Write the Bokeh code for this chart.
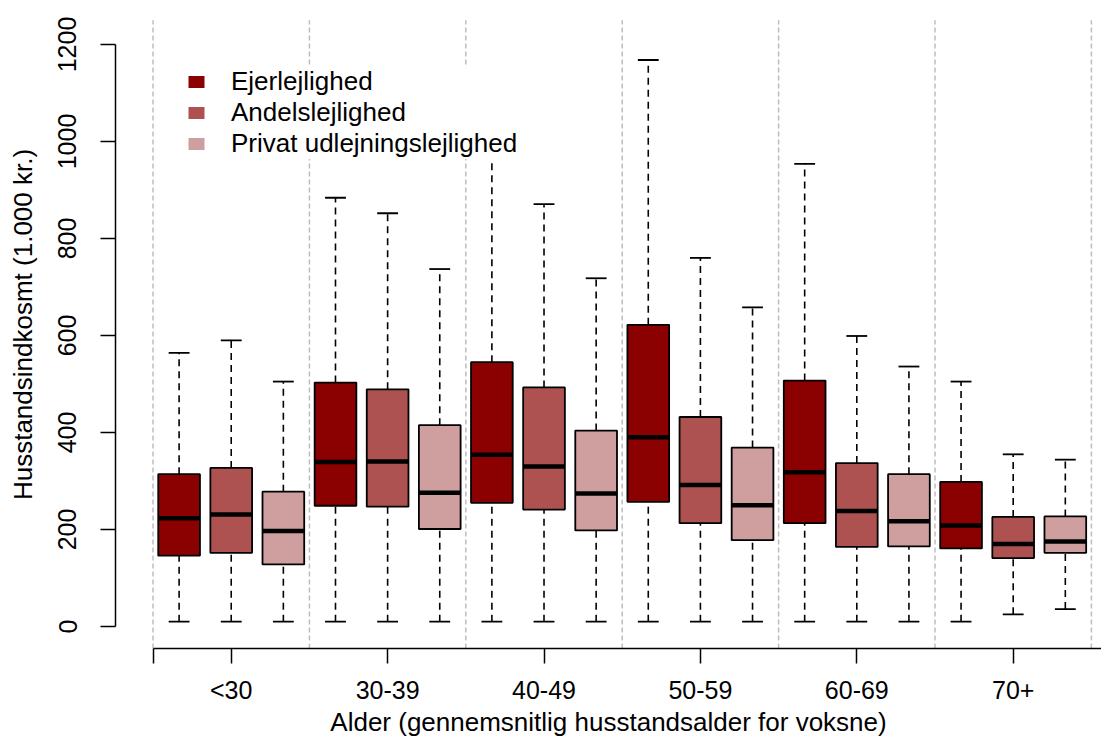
from bokeh.plotting import figure
from bokeh.models import Range1d, FixedTicker, ColumnDataSource, Legend, LegendItem
from bokeh.transform import dodge
from bokeh.embed import file_html
from bokeh.resources import INLINE

groups = ["<30", "30-39", "40-49", "50-59", "60-69", "70+"]
types = ["Ejerlejlighed", "Andelslejlighed", "Privat udlejningslejlighed"]
colors = ["#8B0000", "#AD5151", "#CF9E9E"]

ejer_low = [10, 10, 10, 10, 10, 10]
ejer_q1 = [146, 249, 255, 257, 213, 161]
ejer_med = [223, 339, 354, 390, 318, 208]
ejer_q3 = [314, 503, 545, 622, 507, 298]
ejer_high = [564, 884, 1000, 1168, 954, 505]

andel_low = [10, 10, 10, 10, 10, 25]
andel_q1 = [152, 247, 241, 213, 164, 141]
andel_med = [231, 340, 330, 292, 238, 170]
andel_q3 = [327, 489, 493, 432, 337, 226]
andel_high = [590, 852, 871, 760, 599, 355]

privat_low = [10, 10, 10, 10, 10, 36]
privat_q1 = [128, 201, 198, 178, 165, 152]
privat_med = [197, 276, 274, 250, 217, 175]
privat_q3 = [278, 415, 404, 369, 314, 227]
privat_high = [505, 737, 718, 658, 536, 344]

y_ticks = [0, 200, 400, 600, 800, 1000, 1200]

series = [
    (ejer_low, ejer_q1, ejer_med, ejer_q3, ejer_high),
    (andel_low, andel_q1, andel_med, andel_q3, andel_high),
    (privat_low, privat_q1, privat_med, privat_q3, privat_high),
]

FONT = "Liberation Sans"
BOXW = 0.8
Y0, Y1 = -45.36, 1290.7
X0, X1 = -0.22, 18.694

p = figure(width=1101, height=740, output_backend="svg", toolbar_location=None,
           x_range=Range1d(X0, X1), y_range=Range1d(Y0, Y1),
           min_border_left=115, min_border_right=0, min_border_top=0,
           min_border_bottom=92)
p.xgrid.visible = False
p.ygrid.visible = False
p.outline_line_color = None
p.background_fill_color = "white"

n_groups = len(groups)
n_types = len(types)
dividers = [0.5 + n_types * k for k in range(n_groups + 1)]
p.segment(x0=dividers, x1=dividers, y0=[Y0] * len(dividers), y1=[1250] * len(dividers),
          line_color="#BEBEBE", line_width=1.5, line_dash="5 3")

fill_renderers = []
for t, (lo, q1, med, q3, hi) in enumerate(series):
    xs = [n_types * g + t + 1 for g in range(n_groups)]
    src = ColumnDataSource(dict(x=xs, low=lo, q1=q1, med=med, q3=q3, high=hi))
    # whiskers
    p.segment(x0="x", x1="x", y0="q3", y1="high", source=src,
              line_color="black", line_width=1.6, line_dash="7 5")
    p.segment(x0="x", x1="x", y0="low", y1="q1", source=src,
              line_color="black", line_width=1.6, line_dash="7 5")
    # caps
    p.segment(x0=dodge("x", -BOXW / 4), x1=dodge("x", BOXW / 4), y0="high", y1="high",
              source=src, line_color="black", line_width=1.8)
    p.segment(x0=dodge("x", -BOXW / 4), x1=dodge("x", BOXW / 4), y0="low", y1="low",
              source=src, line_color="black", line_width=1.8)
    # box fill
    r = p.vbar(x="x", width=BOXW, bottom="q1", top="q3", source=src,
               fill_color=colors[t], line_color=None)
    fill_renderers.append(r)
    # box outline
    p.vbar(x="x", width=BOXW, bottom="q1", top="q3", source=src,
           fill_color=None, line_color="black", line_width=1.8)
    # median
    p.segment(x0=dodge("x", -BOXW / 2), x1=dodge("x", BOXW / 2), y0="med", y1="med",
              source=src, line_color="black", line_width=4.5)

# axes
yax = p.yaxis[0]
yax.ticker = FixedTicker(ticks=y_ticks)
yax.bounds = (y_ticks[0], y_ticks[-1])
yax.major_tick_out = 15
yax.major_tick_in = 0
yax.minor_tick_out = 0
yax.minor_tick_in = 0
yax.axis_line_width = 1.5
yax.major_tick_line_width = 1.5
yax.major_label_orientation = "vertical"
yax.major_label_standoff = 24
yax.major_label_text_font = FONT
yax.major_label_text_font_size = "25px"
yax.major_label_text_color = "black"
yax.axis_label = "Husstandsindkosmt (1.000 kr.)"
yax.axis_label_text_font = FONT
yax.axis_label_text_font_size = "26px"
yax.axis_label_text_font_style = "normal"
yax.axis_label_text_color = "black"
yax.axis_label_standoff = 18

centers = [n_types * g + 2 for g in range(n_groups)]
xax = p.xaxis[0]
xax.ticker = FixedTicker(ticks=[0.5] + centers)
overrides = {0.5: ""}
for c, g in zip(centers, groups):
    overrides[c] = g
xax.major_label_overrides = overrides
xax.bounds = (0.5, X1)
xax.major_tick_out = 15
xax.major_tick_in = 0
xax.minor_tick_out = 0
xax.minor_tick_in = 0
xax.axis_line_width = 1.5
xax.major_tick_line_width = 1.5
xax.major_label_standoff = 12
xax.major_label_text_font = FONT
xax.major_label_text_font_size = "25px"
xax.major_label_text_color = "black"
xax.axis_label = "Alder (gennemsnitlig husstandsalder for voksne)"
xax.axis_label_text_font = FONT
xax.axis_label_text_font_size = "26px"
xax.axis_label_text_font_style = "normal"
xax.axis_label_text_color = "black"
xax.axis_label_standoff = 0

legend = Legend(items=[LegendItem(label=types[i], renderers=[fill_renderers[i]]) for i in range(n_types)],
                location=(71, 489), orientation="vertical",
                background_fill_color="white", background_fill_alpha=1.0,
                border_line_color=None, padding=30, spacing=0, margin=0,
                glyph_width=20, glyph_height=15, label_standoff=25,
                label_height=30, label_text_font=FONT, label_text_font_size="26px",
                label_text_color="black")
p.add_layout(legend)

open("out.html", "w").write(file_html(p, INLINE))
